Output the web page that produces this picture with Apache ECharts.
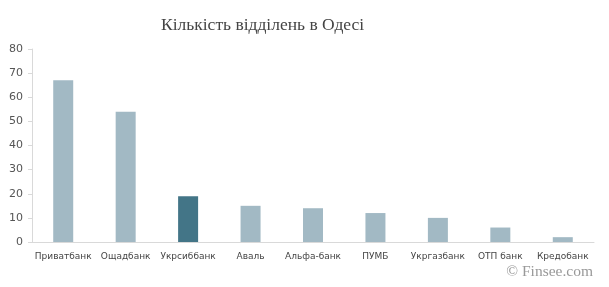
<!DOCTYPE html>
<html>
<head>
<meta charset="utf-8">
<script src="https://cdn.jsdelivr.net/npm/echarts@6/dist/echarts.min.js"></script>
<style>
html,body{margin:0;padding:0;background:#fff;}
#chart{width:609px;height:287px;}
</style>
</head>
<body>
<div id="chart"></div>
<script>
const categories = ['Приватбанк','Ощадбанк','Укрсиббанк','Аваль','Альфа-банк','ПУМБ','Укргазбанк','ОТП банк','Кредобанк'];
const values = [67, 54, 19, 15, 14, 12, 10, 6, 2];
const highlighted = 'Укрсиббанк';
const yTicks = [0, 10, 20, 30, 40, 50, 60, 70, 80];

const chart = echarts.init(document.getElementById('chart'), null, {renderer: 'canvas'});
chart.setOption({
  animation: false,
  backgroundColor: '#fff',
  title: {
    text: 'Кількість відділень в Одесі',
    left: 156, top: 11,
    textStyle: {fontFamily: 'Liberation Serif', fontSize: 17.5, fontWeight: 'normal', color: '#444'}
  },
  graphic: [{
    type: 'text', right: 16, top: 264,
    style: {text: '© Finsee.com', fill: '#999', font: '15.5px "Liberation Serif"'}
  }],
  grid: {left: 32, right: 15, top: 49, bottom: 45, containLabel: false},
  xAxis: {
    type: 'category', data: categories,
    axisLine: {lineStyle: {color: '#d9d9d9', width: 1}},
    axisTick: {show: false},
    axisLabel: {color: '#444', fontFamily: 'DejaVu Sans', fontSize: 9, margin: 10, interval: 0}
  },
  yAxis: {
    type: 'value', min: 0, max: yTicks[yTicks.length-1], interval: 10,
    axisLine: {show: true, lineStyle: {color: '#d9d9d9'}},
    axisTick: {show: true, length: 4, lineStyle: {color: '#d9d9d9'}},
    splitLine: {show: false},
    axisLabel: {color: '#555', fontFamily: 'DejaVu Sans', fontSize: 11, margin: 9}
  },
  series: [{
    type: 'bar', barWidth: 20,
    data: categories.map((c, i) => ({
      value: values[i],
      itemStyle: {color: c === highlighted ? '#437587' : '#a2b9c4'}
    }))
  }]
});
</script>
</body>
</html>
